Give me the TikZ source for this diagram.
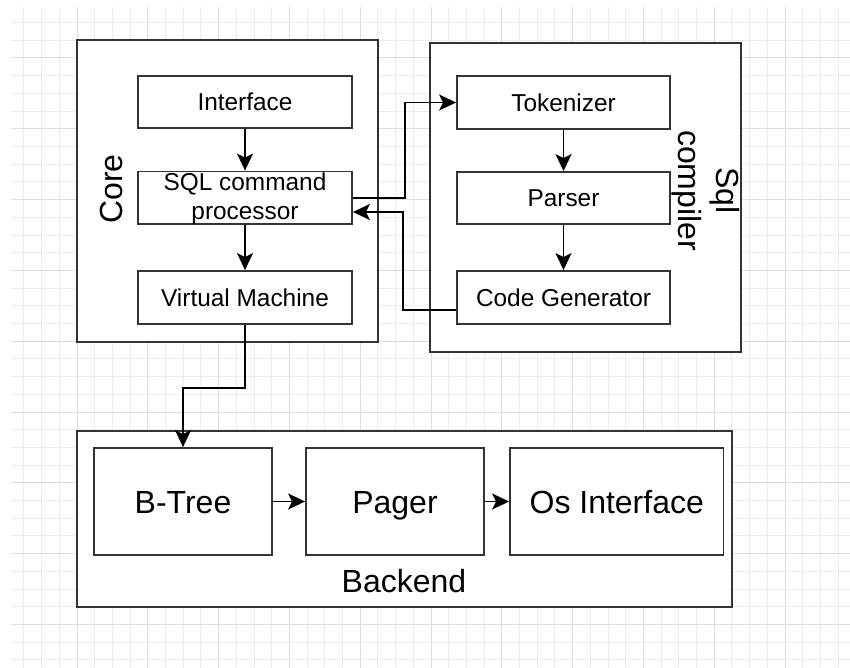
\documentclass[tikz,border=0pt]{standalone}
\usepackage{fontspec}
\setmainfont{Liberation Sans}
\usetikzlibrary{arrows.meta}

\tikzset{
  frame/.style={draw=black!80, line width=1.8pt, fill=white, inner sep=0pt},
  block/.style={draw=black!80, line width=1.8pt, fill=white, inner sep=0pt,
    font=\fontsize{24.4}{29.3}\selectfont, align=center},
  bigblock/.style={block, font=\fontsize{32}{38.5}\selectfont,
    text height=23pt, text depth=0pt, minimum height=107pt},
  bigtext/.style={inner sep=0pt, font=\fontsize{32}{38.5}\selectfont, align=center},
  link/.style={draw=black, line width=1.8pt,
    -{Stealth[length=17pt, width=16pt, inset=4pt]}},
  minorgrid/.style={draw=black!7, line width=1pt},
  majorgrid/.style={draw=black!13, line width=1pt}
}

\begin{document}
\begin{tikzpicture}[x=1pt, y=-1pt]
  \useasboundingbox (0,0) rectangle (850,668);
  \fill[white] (0,0) rectangle (850,668);

  % background grid: minor lines every 17.7, major every fourth
  \foreach \i in {0,...,47} {
    \pgfmathsetmacro{\gx}{23.9+17.7*\i}
    \ifdim\gx pt<850pt
      \draw[minorgrid] (\gx,7) -- (\gx,668);
    \fi
  }
  \foreach \i in {0,...,37} {
    \pgfmathsetmacro{\gy}{22.6+17.7*\i}
    \ifdim\gy pt<668pt
      \draw[minorgrid] (11,\gy) -- (850,\gy);
    \fi
  }
  \foreach \i in {0,...,11} {
    \pgfmathsetmacro{\gx}{77+70.8*\i}
    \ifdim\gx pt<850pt
      \draw[majorgrid] (\gx,7) -- (\gx,668);
    \fi
  }
  \foreach \i in {0,...,9} {
    \pgfmathsetmacro{\gy}{58+70.8*\i}
    \ifdim\gy pt<668pt
      \draw[majorgrid] (11,\gy) -- (850,\gy);
    \fi
  }

  % container frames
  \node[frame, minimum width=301pt, minimum height=302pt] (core) at (227.5,191) {};
  \node[frame, minimum width=311pt, minimum height=309pt] (comp) at (585.5,197.5) {};
  \node[frame, minimum width=655pt, minimum height=176pt] (back) at (404.5,519) {};

  % container titles
  \node[bigtext, rotate=90] (coretitle) at (111.5,189) {Core};
  \node[bigtext, rotate=-90] (comptitle) at (706,190.5) {Sql\\compiler};
  \node[bigtext] (backtitle) at (404,581) {Backend};

  % core blocks
  \node[block, minimum width=214pt, minimum height=52pt] (iface) at (245,102) {Interface};
  \node[block, minimum width=214pt, minimum height=52.5pt] (sqlp) at (245,197.75) {};
  \node[font=\fontsize{24.4}{29.3}\selectfont, align=center, inner sep=0pt]
    (sqltext) at (245,199) {SQL command\\processor};
  \node[block, minimum width=214pt, minimum height=53pt] (vm) at (245,297.5) {Virtual Machine};

  % compiler blocks
  \node[block, minimum width=213pt, minimum height=53pt] (tok) at (563.5,102.5) {Tokenizer};
  \node[block, minimum width=213pt, minimum height=52pt] (par) at (563.5,198) {Parser};
  \node[block, minimum width=213pt, minimum height=53pt] (cg) at (563.5,297.5) {Code Generator};

  % backend blocks
  \node[bigblock, minimum width=178pt] (bt) at (183,501.5) {B-Tree};
  \node[bigblock, minimum width=178pt] (pg) at (395,501.5) {Pager};
  \node[bigblock, minimum width=213.5pt] (os) at (616.75,501.5) {Os Interface};

  % connectors
  \draw[link] (iface) -- (sqlp);
  \draw[link] (sqlp) -- (vm);
  \draw[link] (sqlp.east) -- ++(52,0) |- (tok.west);
  \draw[link] ([yshift=-12.5pt]cg.west) -- ++(-53,0) |- ([yshift=-14.25pt]sqlp.east);
  \draw[link] (tok) -- (par);
  \draw[link] (par) -- (cg);
  \draw[link] (vm.south) -- ++(0,63) -| (bt.north);
  \draw[link] (bt) -- (pg);
  \draw[link] (pg) -- (os);
\end{tikzpicture}
\end{document}
